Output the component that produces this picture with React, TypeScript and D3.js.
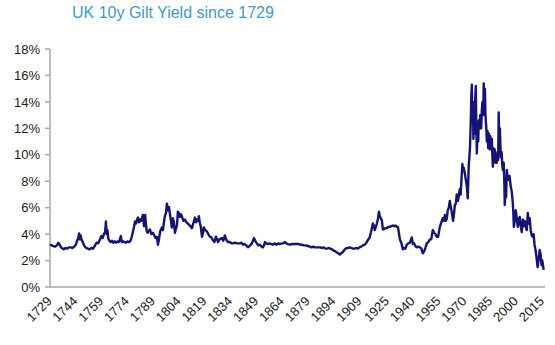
import React from "react";
import * as d3 from "d3";

const title = "UK 10y Gilt Yield since 1729";

const years: number[] = [
  1729.0, 1730.0, 1731.0, 1732.0, 1733.0, 1733.8, 1734.6, 1735.4, 1736.3, 1737.0, 1738.0, 1739.0, 1740.0, 1741.0, 1742.0, 1743.0,
  1744.0, 1744.8, 1745.5, 1745.9, 1746.3, 1746.8, 1747.3, 1748.0, 1749.0, 1750.0, 1751.0, 1752.0, 1753.0, 1754.0, 1755.0, 1756.0,
  1757.0, 1758.0, 1758.8, 1759.6, 1760.3, 1761.0, 1761.5, 1761.9, 1762.4, 1762.8, 1763.5, 1764.3, 1765.0, 1765.8, 1766.6, 1767.4,
  1768.2, 1769.0, 1769.6, 1770.2, 1770.7, 1771.5, 1772.3, 1773.2, 1774.0, 1775.0, 1775.8, 1776.5, 1777.2, 1777.9, 1778.4, 1779.0,
  1779.6, 1780.1, 1780.7, 1781.3, 1781.9, 1782.5, 1783.0, 1783.6, 1784.0, 1784.3, 1784.7, 1785.2, 1785.8, 1786.4, 1787.1, 1787.9,
  1788.8, 1789.6, 1790.3, 1791.1, 1791.7, 1792.3, 1793.0, 1794.0, 1794.6, 1795.2, 1795.8, 1796.4, 1796.9, 1797.4, 1798.1, 1798.7,
  1799.3, 1799.8, 1800.4, 1801.0, 1801.6, 1802.2, 1802.8, 1803.3, 1803.9, 1804.6, 1805.2, 1805.7, 1806.5, 1807.4, 1808.2, 1809.1,
  1809.8, 1810.6, 1811.5, 1812.2, 1812.7, 1813.2, 1813.8, 1814.4, 1815.0, 1815.5, 1816.0, 1816.7, 1817.3, 1817.9, 1818.4, 1819.2,
  1820.2, 1821.0, 1821.9, 1822.7, 1823.7, 1824.5, 1825.4, 1826.0, 1826.6, 1827.5, 1828.9, 1829.7, 1830.6, 1831.3, 1832.4, 1833.5,
  1834.5, 1835.3, 1836.5, 1837.5, 1838.2, 1839.3, 1840.3, 1841.1, 1842.0, 1843.0, 1844.0, 1845.0, 1846.3, 1847.5, 1848.4, 1849.2,
  1850.0, 1851.0, 1852.0, 1852.7, 1853.5, 1853.9, 1854.6, 1855.6, 1856.5, 1857.5, 1858.5, 1859.7, 1860.5, 1861.5, 1862.6, 1863.5,
  1864.5, 1865.5, 1866.3, 1867.2, 1868.5, 1869.5, 1870.5, 1871.3, 1872.5, 1873.5, 1874.5, 1875.3, 1876.5, 1877.5, 1878.8, 1880.0,
  1881.0, 1882.0, 1882.9, 1884.0, 1885.0, 1886.0, 1886.9, 1888.0, 1889.0, 1889.9, 1890.8, 1891.8, 1892.8, 1893.8, 1894.8, 1895.7,
  1896.5, 1897.4, 1898.2, 1899.2, 1900.0, 1900.8, 1901.5, 1902.3, 1903.2, 1904.0, 1905.0, 1906.0, 1907.0, 1907.9, 1908.8, 1909.8,
  1910.8, 1911.9, 1912.8, 1913.7, 1914.6, 1915.4, 1916.0, 1916.6, 1917.2, 1917.7, 1918.3, 1918.9, 1919.6, 1920.1, 1920.6, 1921.2,
  1921.8, 1922.4, 1923.2, 1924.0, 1924.7, 1925.5, 1926.4, 1927.3, 1928.2, 1929.0, 1929.8, 1930.5, 1931.1, 1931.6, 1932.3, 1933.2,
  1934.0, 1934.8, 1935.5, 1936.3, 1937.2, 1938.1, 1939.2, 1939.8, 1940.5, 1941.3, 1942.1, 1943.0, 1943.9, 1944.8, 1945.6, 1946.4,
  1947.2, 1947.9, 1948.8, 1949.7, 1950.5, 1951.4, 1952.2, 1952.9, 1953.7, 1954.5, 1955.5, 1956.4, 1957.2, 1957.8, 1958.4, 1959.0,
  1959.5, 1960.1, 1960.7, 1961.3, 1961.8, 1962.4, 1963.2, 1963.7, 1964.2, 1964.8, 1965.3, 1966.0, 1966.5, 1967.1, 1967.6, 1968.0,
  1968.6, 1969.0, 1969.4, 1970.0, 1970.6, 1971.2, 1971.7, 1972.3, 1973.0, 1973.5, 1973.8, 1974.1, 1974.4, 1974.7, 1975.0, 1975.3,
  1975.6, 1976.0, 1976.4, 1976.7, 1977.0, 1977.4, 1977.8, 1978.1, 1978.6, 1979.0, 1979.5, 1979.9, 1980.3, 1980.7, 1981.0, 1981.3,
  1981.7, 1982.0, 1982.5, 1982.8, 1983.2, 1983.6, 1984.0, 1984.5, 1984.8, 1985.2, 1985.7, 1986.0, 1986.3, 1986.7, 1987.0, 1987.4,
  1987.8, 1988.2, 1988.6, 1989.0, 1989.4, 1989.7, 1990.0, 1990.4, 1990.9, 1991.4, 1991.8, 1992.1, 1992.6, 1993.0, 1993.2, 1993.6,
  1994.0, 1994.4, 1994.9, 1995.5, 1996.0, 1996.7, 1997.3, 1997.9, 1998.2, 1998.5, 1999.0, 1999.6, 2000.2, 2000.8, 2001.3, 2001.9,
  2002.5, 2003.1, 2003.7, 2004.3, 2004.8, 2005.4, 2006.0, 2006.6, 2007.2, 2007.7, 2008.3, 2008.9, 2009.5, 2010.0, 2010.5, 2011.1,
  2011.6, 2012.3, 2012.8, 2013.5, 2014.0, 2014.6, 2015.0, 2015.5, 2015.8,
];

const yields: number[] = [
  3.2, 3.15, 3.1, 3.05, 3.15, 3.35, 3.2, 3.0, 2.9, 2.85, 2.95, 2.9, 3.0, 3.0, 2.95, 3.05,
  3.2, 3.5, 3.75, 4.05, 3.6, 3.9, 3.6, 3.4, 3.1, 2.95, 2.9, 2.85, 2.95, 2.9, 3.1, 3.35,
  3.3, 3.6, 3.85, 3.7, 4.0, 4.15, 4.95, 4.0, 4.3, 3.7, 3.5, 3.4, 3.5, 3.35, 3.45, 3.35,
  3.45, 3.4, 3.6, 3.85, 3.4, 3.45, 3.4, 3.35, 3.45, 3.4, 3.5, 3.8, 4.2, 4.6, 4.95, 4.8,
  5.1, 5.25, 4.9, 5.1, 5.0, 5.25, 5.45, 4.6, 5.2, 5.45, 4.8, 4.2, 4.1, 4.25, 4.35, 4.0,
  4.1, 3.9, 3.7, 3.8, 3.2, 3.6, 4.2, 4.5, 4.3, 4.9, 5.4, 5.6, 6.3, 5.8, 6.05, 5.5,
  5.0, 4.5, 5.2, 4.9, 4.1, 4.4, 4.7, 5.7, 5.6, 5.3, 5.5, 5.3, 5.0, 5.1, 4.9, 4.8,
  4.7, 4.6, 4.45, 4.8, 5.0, 5.25, 4.9, 5.1, 5.0, 5.35, 4.9, 4.5, 3.8, 4.1, 4.5, 4.3,
  4.2, 4.0, 3.8, 3.75, 3.55, 3.4, 3.8, 3.65, 3.4, 3.6, 3.7, 3.5, 3.9, 3.6, 3.4, 3.4,
  3.3, 3.3, 3.35, 3.3, 3.3, 3.3, 3.35, 3.2, 3.25, 3.15, 3.0, 3.1, 3.3, 3.7, 3.45, 3.3,
  3.15, 3.2, 3.05, 3.0, 3.2, 3.4, 3.3, 3.25, 3.3, 3.25, 3.2, 3.3, 3.2, 3.3, 3.25, 3.3,
  3.3, 3.4, 3.3, 3.25, 3.2, 3.25, 3.25, 3.25, 3.25, 3.25, 3.2, 3.2, 3.15, 3.15, 3.1, 3.05,
  3.0, 3.05, 3.0, 3.0, 3.0, 3.0, 2.95, 3.0, 2.9, 2.9, 2.95, 2.9, 2.85, 2.75, 2.7, 2.6,
  2.55, 2.45, 2.55, 2.65, 2.8, 2.9, 2.95, 2.95, 3.0, 2.95, 2.9, 2.9, 2.95, 2.9, 3.0, 3.05,
  3.15, 3.2, 3.35, 3.55, 3.7, 4.1, 4.45, 4.8, 4.6, 4.3, 4.55, 4.8, 5.2, 5.7, 5.4, 5.2,
  5.05, 4.35, 4.4, 4.45, 4.45, 4.55, 4.55, 4.6, 4.65, 4.6, 4.65, 4.55, 4.55, 4.2, 3.6, 3.3,
  2.85, 2.95, 2.9, 3.2, 3.3, 3.35, 3.75, 3.25, 3.3, 3.1, 3.0, 3.05, 3.0, 2.9, 2.55, 2.7,
  3.0, 3.3, 3.4, 3.6, 3.6, 4.3, 4.1, 4.0, 3.8, 3.8, 4.55, 4.9, 5.2, 5.0, 5.45, 5.0,
  5.15, 5.8, 6.0, 6.5, 6.1, 5.7, 5.0, 5.5, 6.2, 6.3, 7.0, 6.5, 6.9, 7.4, 7.0, 8.0,
  9.3, 8.8, 9.0, 8.6, 8.1, 7.6, 6.7, 9.2, 10.5, 12.6, 14.5, 15.3, 12.5, 14.0, 11.2, 12.5,
  11.6, 14.0, 15.2, 12.0, 10.1, 12.0, 11.0, 12.6, 12.0, 13.0, 12.0, 13.4, 14.0, 13.0, 15.4, 14.0,
  15.0, 13.0, 12.0, 11.0, 11.8, 10.5, 11.6, 10.4, 11.4, 10.5, 11.2, 10.0, 9.1, 10.5, 9.6, 10.4,
  9.4, 10.0, 9.4, 10.2, 9.6, 13.2, 11.0, 12.0, 9.8, 10.2, 9.2, 8.85, 9.4, 7.8, 6.2, 7.0,
  6.8, 8.85, 8.3, 8.1, 8.4, 7.6, 7.2, 6.35, 5.6, 4.55, 5.0, 5.8, 5.2, 4.55, 5.0, 5.3,
  4.6, 4.15, 5.1, 4.6, 5.0, 4.55, 4.3, 5.6, 4.8, 5.2, 4.3, 3.9, 3.8, 4.0, 3.2, 2.8,
  2.3, 1.5, 2.0, 2.8, 2.5, 1.65, 2.0, 1.6, 1.3,
];

const yTicks: number[] = [0, 2, 4, 6, 8, 10, 12, 14, 16, 18];
const tickYears: number[] = [
  1729, 1744, 1759, 1774, 1789, 1804, 1819, 1834, 1849, 1864, 1879, 1894, 1909, 1925, 1940, 1955, 1970, 1985, 2000, 2015,
];

export default function App() {
  const W = 555;
  const H = 345;
  const x = d3.scaleLinear().domain([1729, 2016.6]).range([50, 545]);
  const y = d3.scaleLinear().domain([0, 18]).range([287, 49]);
  const data = years.map((yr, i) => ({ yr, v: yields[i] }));
  const line = d3
    .line<{ yr: number; v: number }>()
    .x((d) => x(d.yr))
    .y((d) => y(d.v));
  const font = "'Liberation Sans', Arial, sans-serif";
  const axisColor = "#a9a9a9";

  return (
    <div style={{ position: "absolute", left: 0, top: 0 }}>
      <svg width={W} height={H} style={{ display: "block", background: "#fff" }}>
        <text x={72} y={18} fontFamily={font} fontSize={16} fill="#3b9ccb">
          {title}
        </text>
        {yTicks.map((t) => (
          <g key={t}>
            <line x1={45} x2={50} y1={y(t)} y2={y(t)} stroke={axisColor} strokeWidth={1.5} />
            <text
              x={40}
              y={y(t)}
              dy="0.36em"
              textAnchor="end"
              fontFamily={font}
              fontSize={13}
              fill="#1a1a1a"
            >
              {t}%
            </text>
          </g>
        ))}
        <line x1={50} x2={50} y1={y(18)} y2={y(0)} stroke={axisColor} strokeWidth={1.5} />
        <line x1={50} x2={545} y1={y(0)} y2={y(0)} stroke={axisColor} strokeWidth={1.5} />
        {tickYears.map((t) => (
          <text
            key={t}
            transform={`translate(${x(t) + 2.5},${302}) rotate(-45)`}
            textAnchor="end"
            fontFamily={font}
            fontSize={13}
            fill="#1a1a1a"
          >
            {t}
          </text>
        ))}
        <path
          d={line(data) || ""}
          fill="none"
          stroke="#141478"
          strokeWidth={2.4}
          strokeLinejoin="round"
        />
      </svg>
    </div>
  );
}
